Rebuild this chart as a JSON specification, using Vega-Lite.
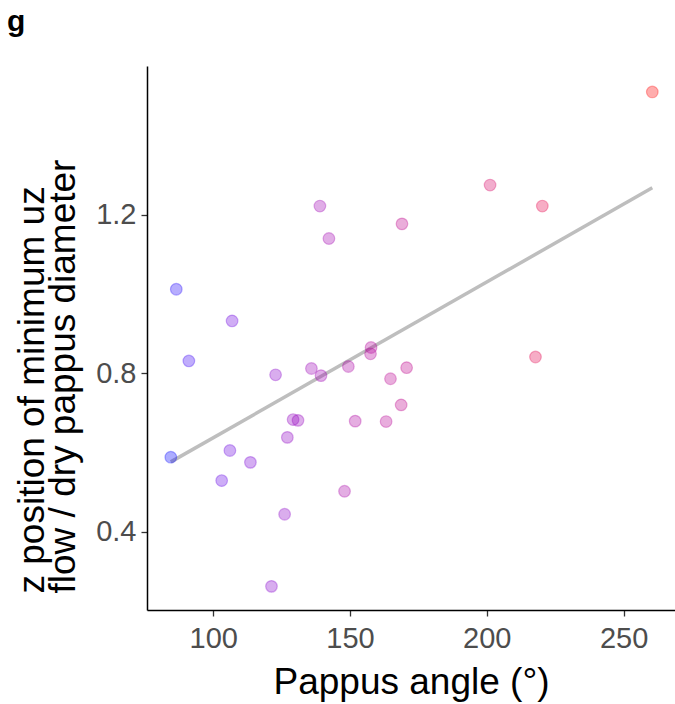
{
  "$schema": "https://vega.github.io/schema/vega-lite/v6.json",
  "width": 528,
  "height": 544,
  "autosize": {"type": "none"},
  "padding": {"left": 147, "top": 66, "right": 0, "bottom": 94},
  "background": "white",
  "config": {
    "font": "Liberation Sans",
    "view": {"stroke": null},
    "axis": {
      "grid": false,
      "domainColor": "black",
      "domainWidth": 1.5,
      "tickColor": "#333333",
      "tickWidth": 1.3,
      "tickSize": 6,
      "labelColor": "#4D4D4D",
      "labelFontSize": 29,
      "labelFont": "Liberation Sans",
      "titleColor": "black",
      "titleFontSize": 37,
      "titleFont": "Liberation Sans",
      "titleFontWeight": "normal"
    }
  },
  "title": {
    "text": "g",
    "anchor": "start",
    "frame": "group",
    "fontSize": 30,
    "fontWeight": "bold",
    "font": "Liberation Sans",
    "color": "black",
    "dx": -140,
    "offset": 29
  },
  "data": {
    "values": [
      {"angle": 260.5, "z": 1.510},
      {"angle": 201.2, "z": 1.275},
      {"angle": 220.3, "z": 1.222},
      {"angle": 139.0, "z": 1.222},
      {"angle": 169.0, "z": 1.177},
      {"angle": 142.3, "z": 1.140},
      {"angle": 86.5, "z": 1.012},
      {"angle": 106.9, "z": 0.932},
      {"angle": 91.1, "z": 0.831},
      {"angle": 217.8, "z": 0.841},
      {"angle": 157.7, "z": 0.865},
      {"angle": 157.5, "z": 0.849},
      {"angle": 122.8, "z": 0.796},
      {"angle": 135.9, "z": 0.812},
      {"angle": 139.4, "z": 0.794},
      {"angle": 149.4, "z": 0.817},
      {"angle": 170.7, "z": 0.814},
      {"angle": 164.8, "z": 0.786},
      {"angle": 168.7, "z": 0.720},
      {"angle": 129.2, "z": 0.683},
      {"angle": 131.0, "z": 0.681},
      {"angle": 151.9, "z": 0.679},
      {"angle": 163.2, "z": 0.678},
      {"angle": 127.1, "z": 0.638},
      {"angle": 84.5, "z": 0.588},
      {"angle": 106.1, "z": 0.605},
      {"angle": 113.6, "z": 0.575},
      {"angle": 103.1, "z": 0.529},
      {"angle": 148.0, "z": 0.502},
      {"angle": 126.1, "z": 0.444},
      {"angle": 121.3, "z": 0.262}
    ]
  },
  "encoding": {
    "x": {
      "field": "angle",
      "type": "quantitative",
      "scale": {"domain": [75.8, 268.8], "nice": false, "zero": false},
      "axis": {"values": [100, 150, 200, 250], "title": "Pappus angle (°)", "labelPadding": 8, "titlePadding": 11}
    },
    "y": {
      "field": "z",
      "type": "quantitative",
      "scale": {"domain": [0.2023, 1.5755], "nice": false, "zero": false},
      "axis": {"values": [0.4, 0.8, 1.2], "format": ".1f", "title": ["z position of minimum uz", "flow / dry pappus diameter"], "labelPadding": 5, "titlePadding": 13, "titleLineHeight": 31, "titleAlign": "left", "titleY": 527}
    }
  },
  "layer": [
    {
      "transform": [{"regression": "z", "on": "angle"}],
      "mark": {"type": "line", "color": "#BEBEBE", "strokeWidth": 3.5}
    },
    {
      "mark": {"type": "circle", "size": 135, "fillOpacity": 0.32, "strokeOpacity": 0.32, "strokeWidth": 1.2},
      "encoding": {
        "color": {"field": "angle", "type": "quantitative", "scale": {"range": ["#0000FF", "#FF0000"], "interpolate": "lab"}, "legend": null},
        "stroke": {"field": "angle", "type": "quantitative", "scale": {"range": ["#0000FF", "#FF0000"], "interpolate": "lab"}, "legend": null}
      }
    }
  ]
}
